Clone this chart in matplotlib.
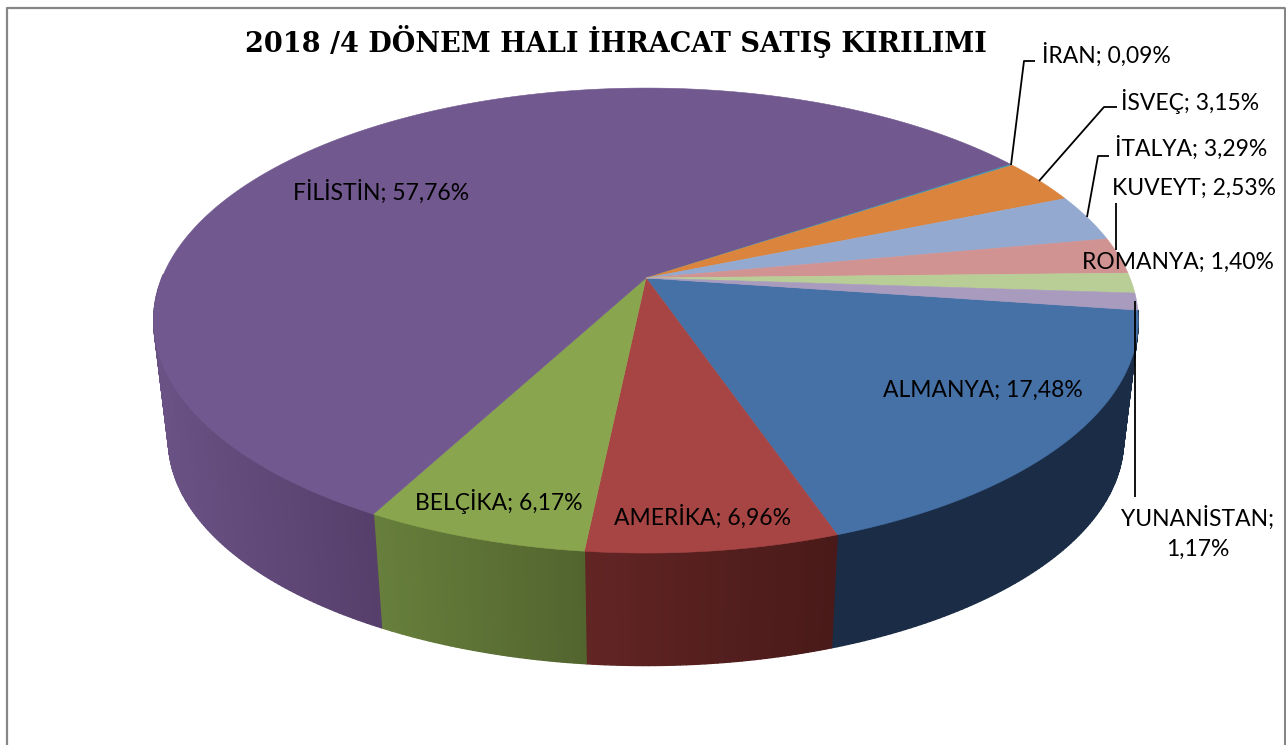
import numpy as np
import matplotlib
matplotlib.use("Agg")
import matplotlib.pyplot as plt
from matplotlib.collections import PolyCollection
from matplotlib.colors import to_rgb
from matplotlib.patches import Polygon

categories = ["ALMANYA", "AMERİKA", "BELÇİKA", "FİLİSTİN", "İRAN", "İSVEÇ",
              "İTALYA", "KUVEYT", "ROMANYA", "YUNANİSTAN"]
shares = [17.48, 6.96, 6.17, 57.76, 0.09, 3.15, 3.29, 2.53, 1.40, 1.17]

top_colors = ["#4571A7", "#A64543", "#89A54E", "#71588F", "#4198AF", "#DB843D",
              "#93A9CF", "#D19392", "#B9CD96", "#A99BBD"]
# only the first four slices show a wall
wall_left = ["#1B2D46", "#622524", "#677F3C", "#6A5285"]
wall_right = ["#1B2D46", "#491A19", "#53652F", "#563F6B"]

label_pos = [(983, 390), (702, 517), (499, 501), (381, 192), (1106, 55),
             (1190, 101), (1191, 148), (1194, 188), (1178, 262), (1198, 533)]

leaders = [
    [(1011, 165), (1024, 61), (1035, 61)],
    [(1039, 181), (1104, 107), (1117, 107)],
    [(1087, 217), (1098, 156), (1109, 156)],
    [(1116, 203), (1116, 250)],
    [(1135, 301), (1135, 497)],
]

# perspective of the pie top, pixel space
cx, apex_y = 646, 278
w, h, k = 484, 224.7, 0.183
start_angle = -8.0
# bottom rim is the top rim shrunk and moved down
ell_y, bot_y, bot_scale = 320, 439.5, 0.97


def rim(theta):
    X, Y = np.cos(theta), np.sin(theta)
    d = 1 + k * Y
    return cx + w * X / d, apex_y - h * Y / d


def bottom(x, y):
    return cx + (x - cx) * bot_scale, bot_y + (y - ell_y) * bot_scale


fig = plt.figure(figsize=(12.86, 7.45), dpi=100)
ax = fig.add_axes([0, 0, 1, 1])
ax.set_xlim(0, 1286)
ax.set_ylim(745, 0)
ax.axis("off")

edges = np.deg2rad(start_angle - np.concatenate([[0], np.cumsum(shares)]) * 3.6)

# walls
for i in range(len(wall_left)):
    th = np.linspace(edges[i], edges[i + 1], max(int(shares[i] * 6), 3))
    th = th[np.sin(th) < 0.02]
    x, y = rim(th)
    xb, yb = bottom(x, y)
    t = (x[:-1] - x.min()) / (x.max() - x.min())
    c0, c1 = np.array(to_rgb(wall_left[i])), np.array(to_rgb(wall_right[i]))
    cols = [c0 + (c1 - c0) * v for v in t]
    quads = [[(x[j], y[j]), (x[j + 1], y[j + 1]), (xb[j + 1], yb[j + 1]), (xb[j], yb[j])]
             for j in range(len(x) - 1)]
    ax.add_collection(PolyCollection(quads, facecolors=cols, edgecolors=cols, linewidths=1.0, zorder=2))

# top surface
for i in range(len(shares)):
    th = np.linspace(edges[i], edges[i + 1], max(int(shares[i] * 12), 3))
    x, y = rim(th)
    pts = [(cx, apex_y)] + list(zip(x, y))
    ax.add_patch(Polygon(pts, closed=True, facecolor=top_colors[i], edgecolor=top_colors[i],
                         linewidth=0.4, zorder=3))

for line in leaders:
    xs, ys = zip(*line)
    ax.plot(xs, ys, color="black", lw=1.3, zorder=4, solid_capstyle="butt")

for i, name in enumerate(categories):
    val = f"{shares[i]:.2f}".replace(".", ",")
    if name == "YUNANİSTAN":
        txt = f"{name};\n{val}%"
    else:
        txt = f"{name}; {val}%"
    ax.text(label_pos[i][0], label_pos[i][1], txt, ha="center", va="center", fontsize=16.5,
            family="Lato", color="black", zorder=5, linespacing=1.55)

ax.text(616, 42, "2018 /4 DÖNEM HALI İHRACAT SATIŞ KIRILIMI", ha="center", va="center",
        fontsize=19.5, family="DejaVu Serif", fontweight="bold", color="black")

# chart frame, bottom edge is cut off; right edge is thicker
ax.plot([7, 7, 1284], [745, 7.5, 7.5], color="#868686", lw=1.6, zorder=1)
ax.plot([1284.5, 1284.5], [6.5, 745], color="#868686", lw=2.2, zorder=1, solid_capstyle="butt")

fig.savefig("out.png", dpi=100, facecolor="white")
